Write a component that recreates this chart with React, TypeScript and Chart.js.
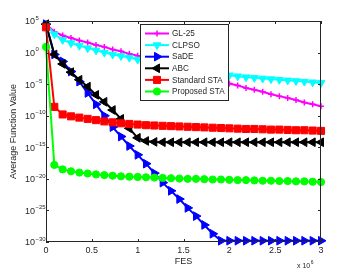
import React, { useEffect, useRef } from "react";
import { Chart, registerables } from "chart.js";
import { drawPoint } from "chart.js/helpers";

Chart.register(...registerables);

// FES (x 10^6)
const fes = [
  0, 0.0909, 0.1818, 0.2727, 0.3636, 0.4545, 0.5455, 0.6364, 0.7273, 0.8182,
  0.9091, 1.0, 1.0909, 1.1818, 1.2727, 1.3636, 1.4545, 1.5455, 1.6364, 1.7273,
  1.8182, 1.9091, 2.0, 2.0909, 2.1818, 2.2727, 2.3636, 2.4545, 2.5455, 2.6364,
  2.7273, 2.8182, 2.9091, 3.0,
];

// log10 of average function value, per series
const gl25Exp = [
  4.5, 3.3, 2.7, 2.3, 1.9, 1.6, 1.2, 0.9, 0.5, 0.2, -0.2, -0.5, -0.9, -1.3,
  -1.7, -2.1, -2.5, -2.9, -3.3, -3.7, -4.1, -4.5, -4.9, -5.2, -5.6, -5.9, -6.2,
  -6.6, -6.9, -7.2, -7.5, -7.9, -8.2, -8.5,
];
const clpsoExp = [
  4.5, 2.9, 2.0, 1.5, 1.1, 0.7, 0.35, 0.0, -0.3, -0.55, -0.8, -1.1, -1.35, -1.6,
  -1.85, -2.1, -2.35, -2.6, -2.8, -3.0, -3.2, -3.4, -3.6, -3.75, -3.9, -4.0,
  -4.1, -4.2, -4.3, -4.4, -4.5, -4.6, -4.7, -4.8,
];
const sadeExp = [
  4.5, -0.3, -1.4, -3.0, -4.6, -6.4, -8.2, -10.0, -11.8, -13.3, -14.8, -16.2,
  -17.6, -19.1, -20.6, -21.9, -23.2, -24.6, -25.9, -27.3, -28.7, -29.8, -29.8,
  -29.8, -29.8, -29.8, -29.8, -29.8, -29.8, -29.8, -29.8, -29.8, -29.8, -29.8,
];
const abcExp = [
  4.5, -0.3, -1.8, -3.1, -4.3, -5.4, -6.7, -7.8, -9.1, -10.5, -12.0, -13.5,
  -14.0, -14.15, -14.2, -14.2, -14.2, -14.2, -14.2, -14.2, -14.2, -14.2, -14.2,
  -14.2, -14.2, -14.2, -14.2, -14.2, -14.2, -14.2, -14.2, -14.2, -14.2, -14.2,
];
const staExp = [
  4.0, -8.6, -9.8, -10.1, -10.3, -10.5, -10.7, -10.9, -11.05, -11.2, -11.3,
  -11.4, -11.5, -11.55, -11.6, -11.65, -11.7, -11.75, -11.8, -11.85, -11.9,
  -11.95, -12.0, -12.05, -12.1, -12.1, -12.15, -12.2, -12.2, -12.25, -12.3,
  -12.3, -12.35, -12.4,
];
const proposedExp = [
  0.9, -17.8, -18.5, -18.8, -19.0, -19.15, -19.3, -19.4, -19.5, -19.6, -19.65,
  -19.7, -19.75, -19.8, -19.85, -19.9, -19.95, -20.0, -20.0, -20.05, -20.1,
  -20.1, -20.15, -20.2, -20.2, -20.25, -20.3, -20.3, -20.35, -20.35, -20.4,
  -20.4, -20.45, -20.5,
];

const seriesNames = ["GL-25", "CLPSO", "SaDE", "ABC", "Standard STA", "Proposed STA"];
const xTicks = [0, 0.5, 1, 1.5, 2, 2.5, 3];
const yTickExponents = [5, 0, -5, -10, -15, -20, -25, -30];

const FONT = '"Liberation Sans", Arial, sans-serif';

const toPoints = (exps: number[]) => exps.map((e, i) => ({ x: fes[i], y: Math.pow(10, e) }));

export default function App() {
  const ref = useRef<HTMLCanvasElement | null>(null);

  useEffect(() => {
    const canvas = ref.current;
    if (!canvas) return;

    const styles = [
      { color: "#ff00ff", pointStyle: "cross", radius: 3, rotation: 0, order: 6 },
      { color: "#00ffff", pointStyle: "triangle", radius: 4.5, rotation: 180, order: 5 },
      { color: "#0000ff", pointStyle: "triangle", radius: 5, rotation: 90, order: 4 },
      { color: "#000000", pointStyle: "triangle", radius: 5, rotation: 270, order: 3 },
      { color: "#ff0000", pointStyle: "rect", radius: 5, rotation: 0, order: 2 },
      { color: "#00ff00", pointStyle: "circle", radius: 3.6, rotation: 0, order: 1 },
    ];
    const allExps = [gl25Exp, clpsoExp, sadeExp, abcExp, staExp, proposedExp];

    const datasets = seriesNames.map((name, i) => ({
      label: name,
      data: toPoints(allExps[i]),
      borderColor: styles[i].color,
      backgroundColor: styles[i].color,
      borderWidth: 2,
      pointStyle: styles[i].pointStyle as any,
      pointRadius: styles[i].radius,
      pointRotation: styles[i].rotation,
      pointBorderWidth: styles[i].pointStyle === "cross" ? 1.5 : 1,
      pointBackgroundColor: styles[i].color,
      pointBorderColor: styles[i].color,
      tension: 0,
      clip: false as any,
      order: styles[i].order,
    }));

    const framePlugin = {
      id: "framePlugin",
      afterDatasetsDraw(chart: any) {
        const ctx = chart.ctx as CanvasRenderingContext2D;
        const { left, right, top, bottom } = chart.chartArea;
        const xs = chart.scales.x;
        const ys = chart.scales.y;
        ctx.save();
        // frame
        ctx.strokeStyle = "#262626";
        ctx.lineWidth = 1;
        ctx.beginPath();
        ctx.rect(left + 0.5, top + 0.5, right - left - 1, bottom - top - 1);
        ctx.stroke();
        // inward ticks
        const tl = 3;
        ctx.beginPath();
        xTicks.forEach((v) => {
          const px = Math.round(xs.getPixelForValue(v)) + 0.5;
          ctx.moveTo(px, bottom);
          ctx.lineTo(px, bottom - tl);
          ctx.moveTo(px, top);
          ctx.lineTo(px, top + tl);
        });
        yTickExponents.forEach((e) => {
          const py = Math.round(ys.getPixelForValue(Math.pow(10, e))) + 0.5;
          ctx.moveTo(left, py);
          ctx.lineTo(left + tl, py);
          ctx.moveTo(right, py);
          ctx.lineTo(right - tl, py);
        });
        ctx.stroke();

        // y tick labels 10^n
        ctx.fillStyle = "#262626";
        ctx.textBaseline = "middle";
        ctx.textAlign = "left";
        yTickExponents.forEach((e) => {
          const py = ys.getPixelForValue(Math.pow(10, e));
          ctx.font = `9px ${FONT}`;
          ctx.fillText("10", 25, py + 1);
          const w = ctx.measureText("10").width;
          ctx.font = `6px ${FONT}`;
          ctx.fillText(String(e).replace("-", "\u2212"), 25 + w + 0.5, py - 3);
        });

        // axis titles
        ctx.font = `9px ${FONT}`;
        ctx.textAlign = "center";
        ctx.fillText("FES", (left + right) / 2, 262);
        ctx.save();
        ctx.translate(14, (top + bottom) / 2);
        ctx.rotate(-Math.PI / 2);
        ctx.fillText("Average Function Value", 0, 0);
        ctx.restore();

        // x 10^6
        ctx.textAlign = "left";
        ctx.font = `7px ${FONT}`;
        ctx.fillText("x 10", 297, 266);
        const w2 = ctx.measureText("x 10").width;
        ctx.font = `5px ${FONT}`;
        ctx.fillText("6", 297 + w2 + 0.5, 263);

        // legend
        const lx = 140, ly = 24, lw = 88, lh = 76;
        ctx.fillStyle = "#ffffff";
        ctx.fillRect(lx, ly, lw, lh);
        ctx.strokeStyle = "#262626";
        ctx.lineWidth = 1;
        ctx.strokeRect(lx + 0.5, ly + 0.5, lw, lh);
        chart.data.datasets.forEach((ds: any, i: number) => {
          const y = 33.5 + i * 11.6;
          ctx.strokeStyle = ds.borderColor;
          ctx.lineWidth = 2;
          ctx.beginPath();
          ctx.moveTo(145, y);
          ctx.lineTo(169, y);
          ctx.stroke();
          ctx.fillStyle = ds.pointBackgroundColor;
          ctx.strokeStyle = ds.pointBorderColor;
          ctx.lineWidth = ds.pointBorderWidth;
          drawPoint(ctx, {
            pointStyle: ds.pointStyle,
            radius: ds.pointRadius,
            rotation: ds.pointRotation,
            borderWidth: ds.pointBorderWidth,
          } as any, 157, y);
          ctx.fillStyle = "#262626";
          ctx.font = `8.2px ${FONT}`;
          ctx.textAlign = "left";
          ctx.textBaseline = "middle";
          ctx.fillText(ds.label, 172, y + 0.5);
        });
        ctx.restore();
      },
    };

    const chart = new Chart(canvas, {
      type: "line",
      data: { datasets: datasets as any },
      options: {
        animation: false,
        responsive: false,
        maintainAspectRatio: false,
        layout: { padding: { top: 21, right: 33, left: 0, bottom: 0 } },
        plugins: { legend: { display: false }, tooltip: { enabled: false } },
        scales: {
          x: {
            type: "linear",
            min: 0,
            max: 3,
            afterBuildTicks: (scale: any) => {
              scale.ticks = xTicks.map((v) => ({ value: v }));
            },
            grid: { display: false, drawTicks: false },
            border: { display: false },
            ticks: {
              padding: 3,
              color: "#262626",
              font: { family: FONT, size: 9 },
              maxRotation: 0,
              autoSkip: false,
              callback: (v: any) => String(v),
            },
            afterFit: (scale: any) => {
              scale.height = 31;
            },
          },
          y: {
            type: "logarithmic",
            min: 1e-30,
            max: 1e5,
            afterBuildTicks: (scale: any) => {
              scale.ticks = yTickExponents.map((e) => ({ value: Math.pow(10, e) }));
            },
            grid: { display: false, drawTicks: false },
            border: { display: false },
            ticks: { display: false },
            afterFit: (scale: any) => {
              scale.width = 46;
            },
          },
        },
      },
      plugins: [framePlugin],
    });
    return () => chart.destroy();
  }, []);

  return (
    <div style={{ position: "fixed", left: 0, top: 0, width: 354, height: 273, background: "#fff" }}>
      <canvas ref={ref} width={354} height={273} style={{ display: "block" }} />
    </div>
  );
}
